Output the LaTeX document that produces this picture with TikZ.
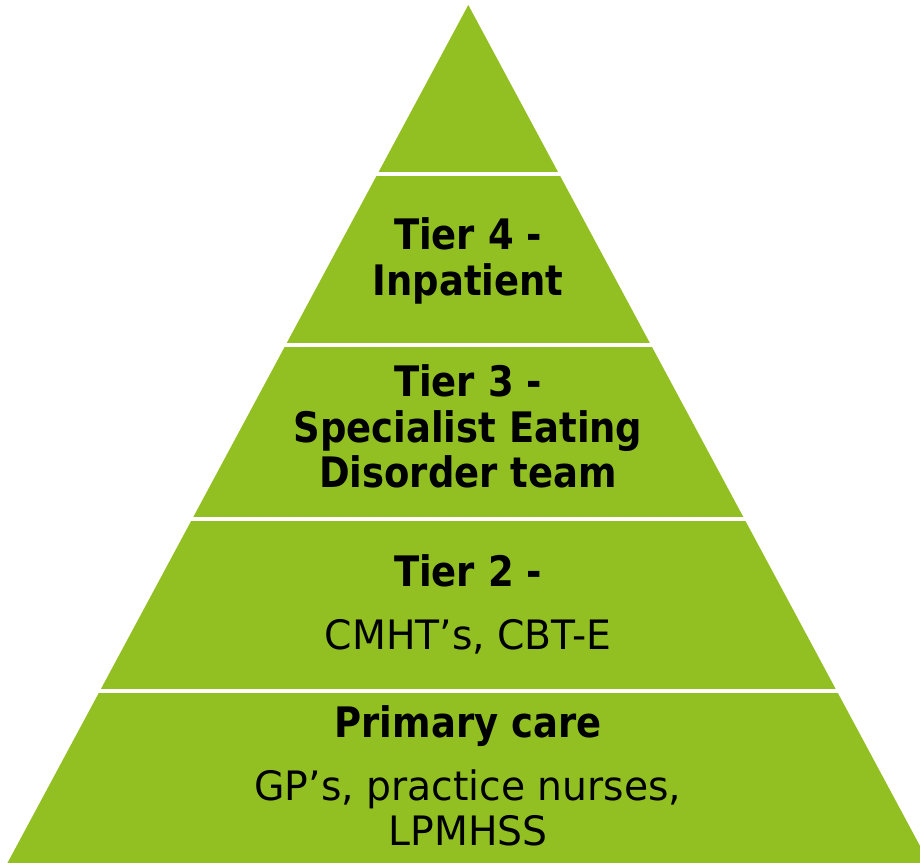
\documentclass[tikz,border=0pt]{standalone}
\usepackage{fontspec}
\newfontfamily\plainfam{DejaVu Sans}[FakeStretch=0.97]
\newfontfamily\boldfam{DejaVu Sans}[FakeStretch=0.88]
\definecolor{pyrgreen}{RGB}{146,192,34}
\tikzset{
  layerfill/.style={fill=pyrgreen, draw=none},
  gapline/.style={draw=white, line width=4pt},
  boldline/.style={anchor=base, inner sep=0pt, font=\boldfam\bfseries\fontsize{42pt}{50pt}\selectfont, text=black},
  plainline/.style={anchor=base, inner sep=0pt, font=\plainfam\fontsize{40.5pt}{48pt}\selectfont, text=black},
}
\begin{document}
\begin{tikzpicture}[x=1pt,y=1pt]
\useasboundingbox (0,0) rectangle (920,862);
\clip (0,0) rectangle (920,862);
% pyramid outline
\coordinate (apex) at (468.3,857);
\coordinate (bl) at (5.3,-5);
\coordinate (br) at (931.3,-5);
\fill[layerfill] (apex) -- (br) -- (bl) -- cycle;
% white gaps between layers
\foreach \yy/\nm in {688/g1, 516.5/g2, 343/g3, 171/g4}{
  \coordinate (\nm L) at (-10,\yy);
  \coordinate (\nm R) at (930,\yy);
  \draw[gapline] (\nm L) -- (\nm R);
}
% texts
\node[boldline] (t4a) at (468,612) {Tier 4 -};
\node[boldline] (t4b) at (468,566) {Inpatient};
\node[boldline] (t3a) at (468,465) {Tier 3 -};
\node[boldline] (t3b) at (468,419) {Specialist Eating};
\node[boldline] (t3c) at (468,374) {Disorder team};
\node[boldline] (t2a) at (468,275) {Tier 2 -};
\node[plainline] (t2b) at (468,212) {CMHT’s, CBT-E};
\node[boldline] (t1a) at (468,125) {Primary care};
\node[plainline] (t1b) at (468,62) {GP’s, practice nurses,};
\node[plainline] (t1c) at (468,17) {LPMHSS};
\end{tikzpicture}
\end{document}
